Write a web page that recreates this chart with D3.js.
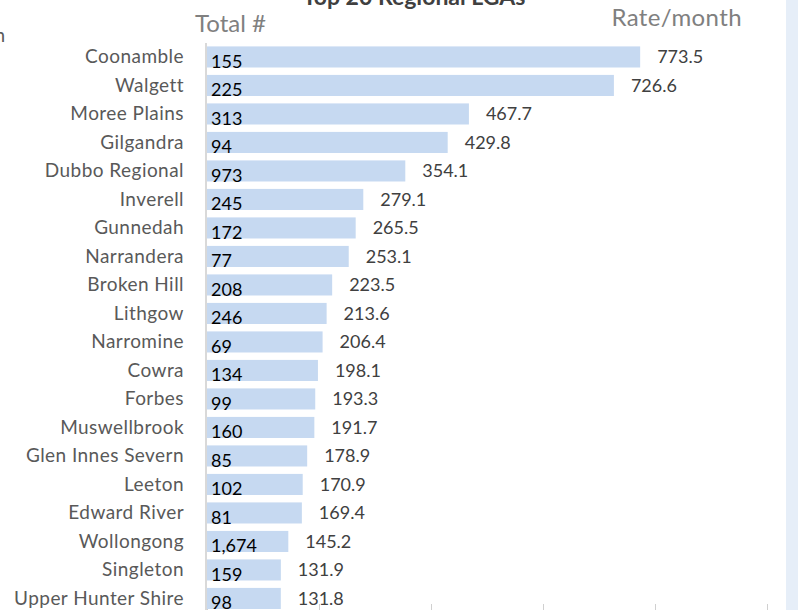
<!DOCTYPE html>
<html lang="en">
<head>
<meta charset="UTF-8">
<title>Top 20 Regional LGAs</title>
<script src="https://cdn.jsdelivr.net/npm/d3@7"></script>
<style>
  body { margin: 0; background: #fff; }
  svg { display: block; font-family: Lato, "Open Sans", sans-serif; }
</style>
</head>
<body>
<script>
// data
var lgas = ["Coonamble", "Walgett", "Moree Plains", "Gilgandra", "Dubbo Regional",
  "Inverell", "Gunnedah", "Narrandera", "Broken Hill", "Lithgow", "Narromine",
  "Cowra", "Forbes", "Muswellbrook", "Glen Innes Severn", "Leeton", "Edward River",
  "Wollongong", "Singleton", "Upper Hunter Shire"];
var totals = [155, 225, 313, 94, 973, 245, 172, 77, 208, 246, 69, 134, 99, 160, 85,
  102, 81, 1674, 159, 98];
var rates = [773.5, 726.6, 467.7, 429.8, 354.1, 279.1, 265.5, 253.1, 223.5, 213.6,
  206.4, 198.1, 193.3, 191.7, 178.9, 170.9, 169.4, 145.2, 131.9, 131.8];
var rateTicks = [0, 200, 400, 600, 800, 1000];

var rows = lgas.map(function(d, i) {
  return {lga: d, total: totals[i], rate: rates[i]};
});

var W = 798, H = 610;
var svg = d3.select("body").append("svg")
  .attr("width", W)
  .attr("height", H);

// light strip on the right edge
svg.append("rect")
  .attr("x", 786).attr("y", 0)
  .attr("width", 12).attr("height", H)
  .attr("fill", "#e6eef8");

var x = d3.scaleLinear().domain([0, 1000]).range([207, 767]);
var y = d3.scaleBand().domain(lgas).range([39, 616.4]).padding(0.26);

// title (partly off the top)
svg.append("text")
  .attr("x", 414).attr("y", 5)
  .attr("text-anchor", "middle")
  .attr("font-size", 23)
  .attr("font-weight", "bold")
  .attr("fill", "#404040")
  .text("Top 20 Regional LGAs");

// cut-off text at left edge
svg.append("text")
  .attr("x", 5).attr("y", 42)
  .attr("text-anchor", "end")
  .attr("font-size", 19)
  .attr("fill", "#595959")
  .text("Region");

svg.append("text")
  .attr("x", 195).attr("y", 32)
  .attr("font-size", 24)
  .attr("fill", "#808080")
  .text("Total #");

svg.append("text")
  .attr("x", 742).attr("y", 26)
  .attr("text-anchor", "end")
  .attr("font-size", 24)
  .attr("fill", "#808080")
  .attr("letter-spacing", 0.4)
  .text("Rate/month");

// bottom ticks
svg.append("g")
  .attr("transform", "translate(0,604)")
  .call(d3.axisBottom(x).tickValues(rateTicks).tickSize(7).tickFormat(""))
  .call(function(g) {
    g.select(".domain").remove();
    g.selectAll("line").attr("stroke", "#d0d0d0");
  });

// bars
svg.selectAll("rect.bar")
  .data(rows)
  .enter()
  .append("rect")
  .attr("class", "bar")
  .attr("x", x(0))
  .attr("y", function(d) { return y(d.lga); })
  .attr("width", function(d) { return x(d.rate) - x(0); })
  .attr("height", y.bandwidth())
  .attr("fill", "#c6d9f1");

// vertical axis line
svg.append("line")
  .attr("x1", 206).attr("x2", 206)
  .attr("y1", 43).attr("y2", H)
  .attr("stroke", "#d9d9d9")
  .attr("stroke-width", 2);

// category labels
svg.selectAll("text.lga")
  .data(rows)
  .enter()
  .append("text")
  .attr("class", "lga")
  .attr("x", 184)
  .attr("y", function(d) { return y(d.lga) + y.bandwidth() / 2 + 6.5; })
  .attr("text-anchor", "end")
  .attr("font-size", 19)
  .attr("letter-spacing", 0.45)
  .attr("fill", "#595959")
  .text(function(d) { return d.lga; });

// totals inside the bars
svg.selectAll("text.total")
  .data(rows)
  .enter()
  .append("text")
  .attr("class", "total")
  .attr("x", 211)
  .attr("y", function(d) { return y(d.lga) + y.bandwidth() / 2 + 11; })
  .attr("font-size", 18)
  .attr("fill", "#000")
  .text(function(d) { return d3.format(",")(d.total); });

// rates outside the bars
svg.selectAll("text.rate")
  .data(rows)
  .enter()
  .append("text")
  .attr("class", "rate")
  .attr("x", function(d) { return x(d.rate) + 17; })
  .attr("y", function(d) { return y(d.lga) + y.bandwidth() / 2 + 6.5; })
  .attr("font-size", 18)
  .attr("fill", "#404040")
  .text(function(d) { return d3.format(".1f")(d.rate); });
</script>
</body>
</html>
